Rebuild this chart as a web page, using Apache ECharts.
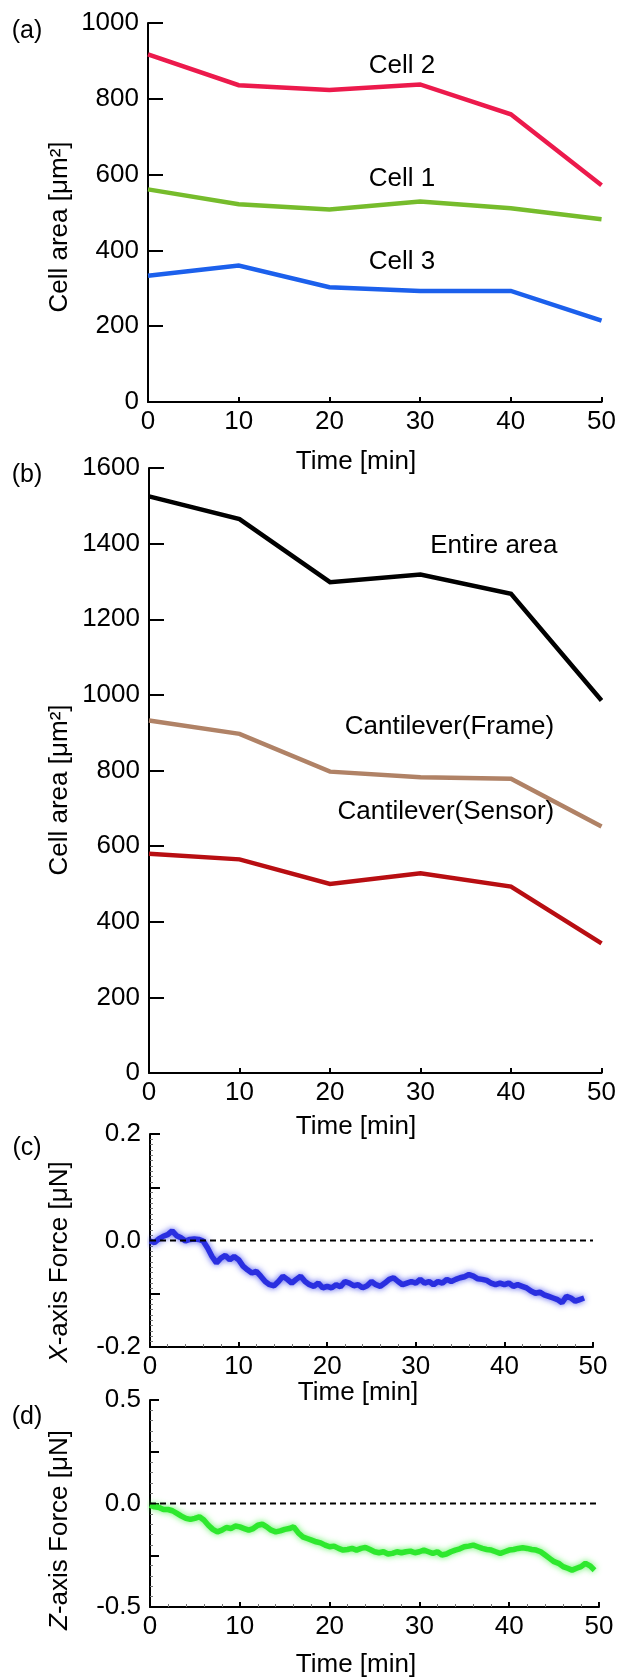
<!DOCTYPE html>
<html>
<head>
<meta charset="utf-8">
<script src="https://cdn.jsdelivr.net/npm/echarts@6/dist/echarts.min.js"></script>
<style>
  html, body { margin: 0; padding: 0; background: #fff; }
  #chart { width: 619px; height: 1680px; }
</style>
</head>
<body>
<div id="chart"></div>
<script>
// Sampling times (min) of the area measurements
const timeMin = [0, 10, 20, 30, 40, 50];

// (a) area of individual cells [μm²]
const cell1 = [561, 522, 508, 529, 511, 482];
const cell2 = [917, 836, 823, 838, 759, 572];
const cell3 = [333, 360, 303, 293, 293, 215];

// (b) area by region [μm²]
const entireArea = [1525, 1465, 1298, 1318, 1267, 985];
const cantileverFrame = [932, 897, 797, 782, 778, 652];
const cantileverSensor = [580, 565, 500, 528, 493, 343];

// (c)/(d) force traces, one sample every 0.5 min starting at t = 0
const forceStep = 0.5;
const xForce = [
  -0.001, -0.004, 0.003, 0.008, 0.011, 0.018, 0.009, 0.005, -0.001, 0.002,
  0.003, 0.002, -0.001, -0.014, -0.030, -0.042, -0.033, -0.028, -0.036, -0.030,
  -0.036, -0.048, -0.055, -0.061, -0.058, -0.067, -0.077, -0.083, -0.085, -0.077,
  -0.067, -0.073, -0.080, -0.073, -0.067, -0.077, -0.083, -0.086, -0.080, -0.089,
  -0.086, -0.089, -0.083, -0.087, -0.077, -0.080, -0.085, -0.083, -0.089, -0.085,
  -0.077, -0.083, -0.086, -0.080, -0.073, -0.070, -0.077, -0.083, -0.080, -0.077,
  -0.080, -0.073, -0.080, -0.077, -0.083, -0.077, -0.080, -0.073, -0.077, -0.073,
  -0.070, -0.068, -0.064, -0.067, -0.072, -0.073, -0.075, -0.080, -0.083, -0.080,
  -0.083, -0.080, -0.086, -0.083, -0.086, -0.089, -0.095, -0.099, -0.097, -0.102,
  -0.105, -0.108, -0.111, -0.117, -0.105, -0.108, -0.114, -0.111, -0.108
];
const zForce = [
  -0.008, -0.016, -0.019, -0.029, -0.029, -0.035, -0.048, -0.061, -0.072, -0.077,
  -0.072, -0.064, -0.080, -0.105, -0.125, -0.137, -0.129, -0.116, -0.121, -0.109,
  -0.113, -0.121, -0.129, -0.121, -0.105, -0.100, -0.113, -0.129, -0.137, -0.132,
  -0.125, -0.121, -0.113, -0.141, -0.161, -0.169, -0.177, -0.185, -0.190, -0.201,
  -0.209, -0.206, -0.217, -0.225, -0.222, -0.217, -0.225, -0.217, -0.212, -0.222,
  -0.233, -0.238, -0.233, -0.244, -0.241, -0.233, -0.238, -0.233, -0.230, -0.238,
  -0.233, -0.225, -0.233, -0.241, -0.233, -0.249, -0.244, -0.233, -0.225, -0.219,
  -0.209, -0.206, -0.201, -0.209, -0.217, -0.222, -0.225, -0.233, -0.241, -0.233,
  -0.225, -0.222, -0.217, -0.214, -0.217, -0.222, -0.225, -0.233, -0.249, -0.265,
  -0.281, -0.289, -0.305, -0.313, -0.322, -0.313, -0.305, -0.289, -0.301, -0.322
];

// Zero-force reference line
const zeroLine = [[0, 0], [50, 0]];

const FONT = '"Liberation Sans", Arial, sans-serif';
const TICK_SIZE = 26;
const NAME_SIZE = 26;

const pairs = (xs, ys) => ys.map((v, i) => [xs[i], v]);
const trace = (ys) => ys.map((v, i) => [i * forceStep, v]);

function xAxisCfg(gridIndex, minor) {
  return {
    type: 'value', gridIndex, min: 0, max: 50, interval: 10,
    axisLine: { show: true, onZero: false, lineStyle: { color: '#000', width: 2 } },
    axisTick: { show: true, inside: true, length: 5, lineStyle: { color: '#000', width: 2 } },
    minorTick: minor ? { show: true, splitNumber: 5, length: 3, lineStyle: { color: '#777', width: 1 } } : { show: false },
    axisLabel: { color: '#000', fontSize: TICK_SIZE, fontFamily: FONT, margin: 7, formatter: (v) => String(v) },
    splitLine: { show: false }
  };
}

function yAxisCfg(gridIndex, min, max, interval, tickLen, formatter, minorSplit) {
  return {
    type: 'value', gridIndex, min, max, interval,
    axisLine: { show: true, onZero: false, lineStyle: { color: '#000', width: 2 } },
    axisTick: { show: true, inside: true, length: tickLen, lineStyle: { color: '#000', width: 2 } },
    minorTick: minorSplit ? { show: true, splitNumber: minorSplit, length: 3, lineStyle: { color: '#777', width: 1 } } : { show: false },
    axisLabel: { color: '#000', fontSize: TICK_SIZE, fontFamily: FONT, margin: 9, formatter },
    splitLine: { show: false }
  };
}

function areaLine(name, data, color, xi) {
  return {
    name, type: 'line', xAxisIndex: xi, yAxisIndex: xi,
    data: pairs(timeMin, data), showSymbol: false, symbol: 'none',
    lineStyle: { color, width: 4.5, join: 'miter' }, z: 3
  };
}

function seriesLabel(text, coord) {
  return {
    symbol: 'circle', symbolSize: 1, silent: true,
    itemStyle: { color: 'rgba(0,0,0,0)' },
    data: [{
      coord,
      label: { show: true, position: 'inside', formatter: text, color: '#000', fontSize: NAME_SIZE, fontFamily: FONT }
    }]
  };
}

function forceTrace(data, color, halo, xi) {
  return {
    type: 'line', xAxisIndex: xi, yAxisIndex: xi, data: trace(data),
    showSymbol: false, symbol: 'none',
    lineStyle: { color, width: 5.5, shadowColor: halo, shadowBlur: 6 }, z: 3
  };
}

function zeroRef(xi) {
  return {
    type: 'line', xAxisIndex: xi, yAxisIndex: xi, data: zeroLine,
    showSymbol: false, symbol: 'none', silent: true,
    lineStyle: { color: '#000', width: 2, type: [6, 4] }, z: 4
  };
}

const fmtArea = (v) => String(v);
const fmtC = (v) => { const r = Math.round(v * 10); return r % 2 ? '' : (r / 10).toFixed(1); };
const fmtD = (v) => { const r = Math.round(v * 4); return r % 2 ? '' : (r / 4).toFixed(1); };

function text(x, y, t, size, rotate) {
  return {
    type: 'text', x, y, rotation: rotate ? Math.PI / 2 : 0,
    style: { text: t, font: size + 'px ' + FONT, fill: '#000', align: 'center', verticalAlign: 'middle' }
  };
}

function forceName(x, y, axisLetter) {
  return {
    type: 'text', x, y, rotation: Math.PI / 2,
    style: {
      text: '{i|' + axisLetter + '}-axis Force [μN]', font: NAME_SIZE + 'px ' + FONT, fill: '#000',
      align: 'center', verticalAlign: 'middle',
      rich: { i: { fontStyle: 'italic', fontSize: NAME_SIZE, fontFamily: FONT, fill: '#000' } }
    }
  };
}

const chart = echarts.init(document.getElementById('chart'), null, { renderer: 'canvas' });

chart.setOption({
  animation: false,
  backgroundColor: '#fff',
  grid: [
    { left: 148, top: 23, width: 455, height: 379 },
    { left: 149, top: 468, width: 453, height: 605 },
    { left: 150, top: 1134, width: 443, height: 213 },
    { left: 150, top: 1400, width: 449, height: 207 }
  ],
  xAxis: [xAxisCfg(0, false), xAxisCfg(1, false), xAxisCfg(2, true), xAxisCfg(3, true)],
  yAxis: [
    yAxisCfg(0, 0, 1000, 200, 15, fmtArea),
    yAxisCfg(1, 0, 1600, 200, 15, fmtArea),
    yAxisCfg(2, -0.2, 0.2, 0.1, 10, fmtC, 10),
    yAxisCfg(3, -0.5, 0.5, 0.25, 9, fmtD, 5)
  ],
  series: [
    Object.assign(areaLine('Cell 2', cell2, '#ec1a4c', 0), { markPoint: seriesLabel('Cell 2', [28, 887]) }),
    Object.assign(areaLine('Cell 1', cell1, '#76bc2c', 0), { markPoint: seriesLabel('Cell 1', [28, 590]) }),
    Object.assign(areaLine('Cell 3', cell3, '#1c60ec', 0), { markPoint: seriesLabel('Cell 3', [28, 370]) }),
    Object.assign(areaLine('Entire area', entireArea, '#000000', 1), { markPoint: seriesLabel('Entire area', [38.1, 1394]) }),
    Object.assign(areaLine('Cantilever(Frame)', cantileverFrame, '#b08266', 1), { markPoint: seriesLabel('Cantilever(Frame)', [33.2, 916]) }),
    Object.assign(areaLine('Cantilever(Sensor)', cantileverSensor, '#b80e12', 1), { markPoint: seriesLabel('Cantilever(Sensor)', [32.8, 690]) }),
    forceTrace(xForce, '#2a2fe0', 'rgba(40,50,235,0.8)', 2),
    zeroRef(2),
    forceTrace(zForce, '#2ee82e', 'rgba(60,240,60,0.8)', 3),
    zeroRef(3)
  ],
  graphic: [
    text(27, 31, '(a)', 25),
    text(27, 475, '(b)', 25),
    text(27, 1148, '(c)', 25),
    text(27, 1417, '(d)', 25),
    text(60, 227, 'Cell area [μm²]', NAME_SIZE, true),
    text(60, 790, 'Cell area [μm²]', NAME_SIZE, true),
    forceName(60, 1262, 'X'),
    forceName(60, 1530, 'Z'),
    text(356, 462, 'Time [min]', NAME_SIZE),
    text(356, 1127, 'Time [min]', NAME_SIZE),
    text(358, 1393, 'Time [min]', NAME_SIZE),
    text(356, 1665, 'Time [min]', NAME_SIZE)
  ]
});
</script>
</body>
</html>
